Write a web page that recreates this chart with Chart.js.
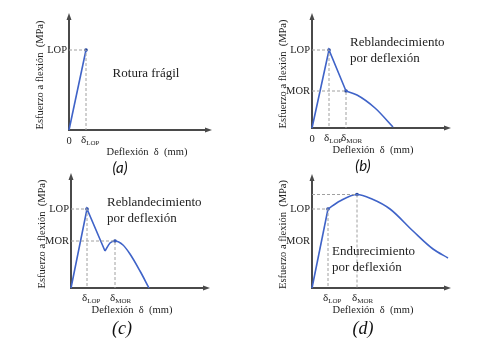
<!DOCTYPE html>
<html>
<head>
<meta charset="utf-8">
<script src="https://cdn.jsdelivr.net/npm/chart.js@4/dist/chart.umd.min.js"></script>
<style>
  body { margin: 0; background: #fff; }
  #wrap { position: relative; width: 480px; height: 342px; }
  canvas { position: absolute; }
</style>
</head>
<body>
<div id="wrap">
  <canvas id="panelA" width="240" height="185" style="left:0;top:0"></canvas>
  <canvas id="panelB" width="240" height="185" style="left:240px;top:0"></canvas>
  <canvas id="panelC" width="240" height="171" style="left:0;top:171px"></canvas>
  <canvas id="panelD" width="240" height="171" style="left:240px;top:171px"></canvas>
</div>
<script>
// Curve data, deflection (x) vs flexural stress (y), arbitrary units.
// (a) brittle failure
const aLineX = [0, 1.7];
const aLineY = [0, 8.0];
// (b) deflection softening
const bLineX = [0, 1.7, 3.4];
const bLineY = [0, 7.8, 3.7];
const bTailX = [3.4, 4.5, 6.3, 8.1];
const bTailY = [3.7, 3.3, 2.0, 0.1];
// (c) deflection softening with second peak
const cLineX = [0, 1.6, 3.4];
const cLineY = [0, 7.9, 3.7];
const cTailX = [3.4, 3.9, 4.4, 5.2, 5.9, 6.9, 7.8];
const cTailY = [3.7, 4.5, 4.7, 4.3, 3.4, 1.7, 0];
// (d) deflection hardening
const dLineX = [0, 1.6];
const dLineY = [0, 7.9];
const dTailX = [1.6, 2.8, 4.5, 6.0, 7.8, 10.1, 12.1, 13.6];
const dTailY = [7.9, 8.7, 9.35, 8.9, 7.9, 5.7, 3.9, 3.0];

// Characteristic points: [deflection, stress]
const aLOP = [1.7, 8.0];
const bLOP = [1.7, 7.8], bMOR = [3.4, 3.7];
const cLOP = [1.6, 7.9], cMOR = [4.4, 4.7];
const dLOP = [1.6, 7.9], dPeak = [4.5, 9.35], dMORlevel = 4.7;

const BLUE = '#3f63c8';
const zip = (xs, ys) => xs.map((x, i) => ({ x: x, y: ys[i] }));
const guide = (pt) => ({ x: [0, pt[0], pt[0]], y: [pt[1], pt[1], 0] });

// Draws axes with arrows, tick labels, titles and notes using the chart's scales.
const decorations = {
  id: 'decorations',
  beforeDatasetsDraw(chart) {
    const { ctx, chartArea: a } = chart;
    ctx.save();
    ctx.strokeStyle = '#4a4a4a';
    ctx.fillStyle = '#4a4a4a';
    ctx.lineWidth = 2;
    ctx.beginPath();
    ctx.moveTo(a.left, a.top);
    ctx.lineTo(a.left, a.bottom);
    ctx.lineTo(a.right, a.bottom);
    ctx.stroke();
    ctx.beginPath();
    ctx.moveTo(a.left, a.top - 3);
    ctx.lineTo(a.left - 2.5, a.top + 4);
    ctx.lineTo(a.left + 2.5, a.top + 4);
    ctx.fill();
    ctx.beginPath();
    ctx.moveTo(a.right + 3, a.bottom);
    ctx.lineTo(a.right - 4, a.bottom - 2.5);
    ctx.lineTo(a.right - 4, a.bottom + 2.5);
    ctx.fill();
    ctx.restore();
  },
  afterDraw(chart) {
    const p = chart.config.options.plugins.decorations;
    const { ctx, chartArea: a, scales } = chart;
    ctx.save();
    ctx.fillStyle = '#222';
    ctx.textBaseline = 'middle';
    // y tick labels
    ctx.font = '10.5px "Liberation Serif"';
    ctx.textAlign = 'right';
    p.yTicks.forEach(t => ctx.fillText(t.label, a.left - 2, scales.y.getPixelForValue(t.value)));
    // x tick labels with subscripts
    p.xTicks.forEach(t => {
      const x = scales.x.getPixelForValue(t.value);
      const y = a.bottom + 11;
      if (!t.sub) {
        ctx.textAlign = 'center';
        ctx.font = '10.5px "Liberation Serif"';
        ctx.fillText(t.label, x, y);
        return;
      }
      ctx.textAlign = 'left';
      ctx.font = '11px "Liberation Serif"';
      const x0 = x - 5;
      ctx.fillText(t.label, x0, y - 1);
      const w = ctx.measureText(t.label).width;
      ctx.font = '7px "Liberation Serif"';
      ctx.fillText(t.sub, x0 + w, y + 2);
    });
    // axis titles
    ctx.font = '10.5px "Liberation Serif"';
    ctx.textAlign = 'center';
    ctx.fillText('Deflexión  δ  (mm)', a.left + p.xTitleDx, a.bottom + 22);
    ctx.save();
    ctx.translate(a.left - 29, (a.top + a.bottom) / 2 + 2);
    ctx.rotate(-Math.PI / 2);
    ctx.fillText('Esfuerzo a flexión  (MPa)', 0, 0);
    ctx.restore();
    // notes
    ctx.font = '13px "Liberation Serif"';
    ctx.textAlign = p.noteAlign;
    p.notes.forEach((line, i) => ctx.fillText(line, a.left + p.noteDx, a.bottom + p.noteDy + i * 15.5));
    // panel letter
    ctx.font = p.letterFont;
    ctx.textAlign = 'center';
    ctx.fillStyle = '#111';
    ctx.fillText(p.letter, a.left + 51, a.bottom + p.letterDy);
    ctx.restore();
  }
};

function makePanel(id, p) {
  const datasets = [];
  p.guides.forEach(g => datasets.push({
    data: zip(g.x, g.y), borderColor: '#a0a0a0', borderWidth: 1, borderDash: [3, 2],
    pointRadius: 0, tension: 0, clip: false
  }));
  p.lines.forEach(l => datasets.push({
    data: zip(l.x, l.y), borderColor: BLUE, borderWidth: 1.6, pointRadius: 0, tension: 0, clip: false
  }));
  p.curves.forEach(l => datasets.push({
    data: zip(l.x, l.y), borderColor: BLUE, borderWidth: 1.6, pointRadius: 0,
    cubicInterpolationMode: 'monotone', clip: false
  }));
  datasets.push({
    data: p.dots.map(d => ({ x: d[0], y: d[1] })), showLine: false, pointRadius: 1.8,
    pointBackgroundColor: '#1f3f99', pointBorderWidth: 0, clip: false
  });
  new Chart(document.getElementById(id), {
    type: 'line',
    data: { datasets: datasets },
    options: {
      responsive: false,
      animation: false,
      layout: { padding: p.pad },
      scales: {
        x: { type: 'linear', min: 0, max: p.xMax, display: false },
        y: { type: 'linear', min: 0, max: p.yMax, display: false }
      },
      plugins: {
        legend: { display: false },
        tooltip: { enabled: false },
        decorations: p
      }
    },
    plugins: [decorations]
  });
}

const SANS_LETTER = 'italic 15px Lato';
const SERIF_LETTER = 'italic 18px "Liberation Serif"';

makePanel('panelA', {
  pad: { left: 69, top: 16, right: 31, bottom: 55 }, xMax: 14, yMax: 11.4,
  lines: [{ x: aLineX, y: aLineY }], curves: [], guides: [guide(aLOP)], dots: [aLOP],
  yTicks: [{ value: aLOP[1], label: 'LOP' }],
  xTicks: [{ value: 0, label: '0' }, { value: aLOP[0], label: 'δ', sub: 'LOP' }],
  xTitleDx: 78, notes: ['Rotura frágil'], noteAlign: 'center', noteDx: 77, noteDy: -56,
  letter: '(a)', letterFont: SANS_LETTER, letterDy: 38
});
makePanel('panelB', {
  pad: { left: 72, top: 16, right: 32, bottom: 57 }, xMax: 13.6, yMax: 11.2,
  lines: [{ x: bLineX, y: bLineY }], curves: [{ x: bTailX, y: bTailY }],
  guides: [guide(bLOP), guide(bMOR)], dots: [bLOP, bMOR],
  yTicks: [{ value: bLOP[1], label: 'LOP' }, { value: bMOR[1], label: 'MOR' }],
  xTicks: [{ value: 0, label: '0' }, { value: bLOP[0], label: 'δ', sub: 'LOP' }, { value: bMOR[0], label: 'δ', sub: 'MOR' }],
  xTitleDx: 61, notes: ['Reblandecimiento', 'por deflexión'], noteAlign: 'left', noteDx: 38, noteDy: -85,
  letter: '(b)', letterFont: SANS_LETTER, letterDy: 38
});
makePanel('panelC', {
  pad: { left: 71, top: 5, right: 33, bottom: 54 }, xMax: 13.6, yMax: 11.2,
  lines: [{ x: cLineX, y: cLineY }], curves: [{ x: cTailX, y: cTailY }],
  guides: [guide(cLOP), guide(cMOR)], dots: [cLOP, cMOR],
  yTicks: [{ value: cLOP[1], label: 'LOP' }, { value: cMOR[1], label: 'MOR' }],
  xTicks: [{ value: cLOP[0], label: 'δ', sub: 'LOP' }, { value: cMOR[0], label: 'δ', sub: 'MOR' }],
  xTitleDx: 61, notes: ['Reblandecimiento', 'por deflexión'], noteAlign: 'left', noteDx: 36, noteDy: -85,
  letter: '(c)', letterFont: SERIF_LETTER, letterDy: 41
});
makePanel('panelD', {
  pad: { left: 72, top: 6, right: 32, bottom: 54 }, xMax: 13.6, yMax: 11.1,
  lines: [{ x: dLineX, y: dLineY }], curves: [{ x: dTailX, y: dTailY }],
  guides: [guide(dLOP), guide(dPeak)], dots: [dLOP, dPeak],
  yTicks: [{ value: dLOP[1], label: 'LOP' }, { value: dMORlevel, label: 'MOR' }],
  xTicks: [{ value: dLOP[0], label: 'δ', sub: 'LOP' }, { value: dPeak[0], label: 'δ', sub: 'MOR' }],
  xTitleDx: 61, notes: ['Endurecimiento', 'por deflexión'], noteAlign: 'left', noteDx: 20, noteDy: -36,
  letter: '(d)', letterFont: SERIF_LETTER, letterDy: 41
});
</script>
</body>
</html>
